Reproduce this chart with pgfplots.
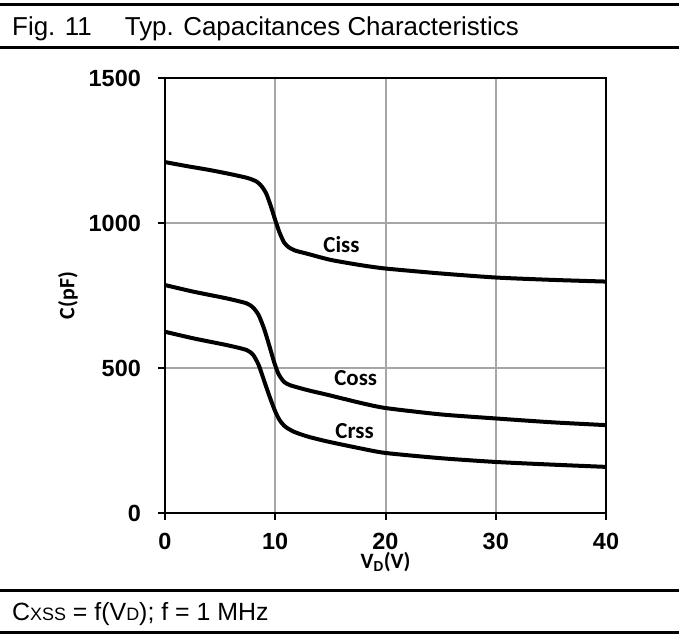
\documentclass[border=0pt]{standalone}
\usepackage{fontspec}
\setmainfont{Liberation Sans}
\newfontfamily\carlito{Carlito}
\usepackage{pgfplots}
\pgfplotsset{compat=1.18}
\definecolor{gridgray}{HTML}{A6A6A6}

% measured capacitance curves, C in pF against V_D in V
\pgfplotstableread{
x y
0 1210
2 1196
4 1183
6 1168
7.5 1155
8.3 1143
8.8 1125
9.2 1100
9.6 1058
10.0 1010
10.4 966
10.8 933
11.2 917
11.8 905
13 893
15 873
17.7 855
20 843
25 826
30 812
35 804
40 798
}\ciss
\pgfplotstableread{
x y
0 786
2.6 763
5.6 740
7.4 723
8.0 708
8.5 682
9.0 634
9.5 572
9.9 520
10.3 479
10.8 452
11.4 440
13 423
14.8 407
17.7 380
20 362
25 340
30 326
35 313
40 303
}\coss
\pgfplotstableread{
x y
0 625
2.6 602
5.6 579
7.4 562
8.0 545
8.5 510
9.0 455
9.5 400
10.0 350
10.4 320
10.9 298
11.7 280
13 263
14.8 246
17.7 223
20 207
25 189
30 176
35 167
40 159
}\crss

\begin{document}
\begin{tikzpicture}
\path[use as bounding box] (0bp,0bp) rectangle (679bp,635bp);
% header and footer rules
\draw[line width=3bp] (0bp,630bp) -- (679bp,630bp);
\draw[line width=3bp] (0bp,587.3bp) -- (679bp,587.3bp);
\draw[line width=3bp] (0bp,44.3bp) -- (679bp,44.3bp);
\draw[line width=3bp] (0bp,2bp) -- (679bp,2bp);
\node[anchor=base west, inner sep=0pt, font=\fontsize{26}{30}\selectfont]
  at (12bp,599bp) {Fig. 11\hspace{33bp}Typ. Capacitances Characteristics};
\node[anchor=base west, inner sep=0pt, font=\fontsize{25}{30}\selectfont]
  at (12bp,15bp) {C{\fontsize{18}{20}\selectfont XSS} = f(V{\fontsize{18}{20}\selectfont D}); f = 1 MHz};

\begin{axis}[
  at={(165bp,122bp)}, anchor=south west,
  scale only axis, width=441bp, height=435bp,
  xmin=0, xmax=40, ymin=0, ymax=1500,
  xtick={0,10,20,30,40}, ytick={0,500,1000,1500},
  grid=major, grid style={gridgray, line width=2bp},
  axis line style={black, line width=2.5bp},
  tick pos=left, tick align=outside, major tick length=7bp,
  tick style={black, line width=2bp},
  /pgf/number format/assume math mode=true,
  /pgf/number format/set thousands separator={},
  ticklabel style={font=\bfseries\fontsize{23.5}{28}\selectfont},
  yticklabel style={anchor=east, inner sep=0pt, xshift=-17bp},
  xticklabel style={anchor=north, inner sep=0pt, yshift=-13bp},
  xlabel={V\textsubscript{D}(V)}, ylabel={C(pF)},
  xlabel style={at={(axis description cs:0.5,-0.113)}, anchor=center,
    font=\carlito\bfseries\fontsize{22}{26}\selectfont},
  ylabel style={at={(axis description cs:-0.22,0.5)}, anchor=center, rotate=0,
    font=\carlito\bfseries\fontsize{22}{26}\selectfont},
  clip=false,
]
\addplot[black, line width=4bp, smooth, tension=0.4] table {\ciss};
\addplot[black, line width=4bp, smooth, tension=0.4] table {\coss};
\addplot[black, line width=4bp, smooth, tension=0.4] table {\crss};
\node[font=\carlito\bfseries\fontsize{23}{26}\selectfont] at (axis cs:16.0,927) {Ciss};
\node[font=\carlito\bfseries\fontsize{23}{26}\selectfont] at (axis cs:17.3,465) {Coss};
\node[font=\carlito\bfseries\fontsize{23}{26}\selectfont] at (axis cs:17.2,284) {Crss};
\end{axis}
\end{tikzpicture}
\end{document}
